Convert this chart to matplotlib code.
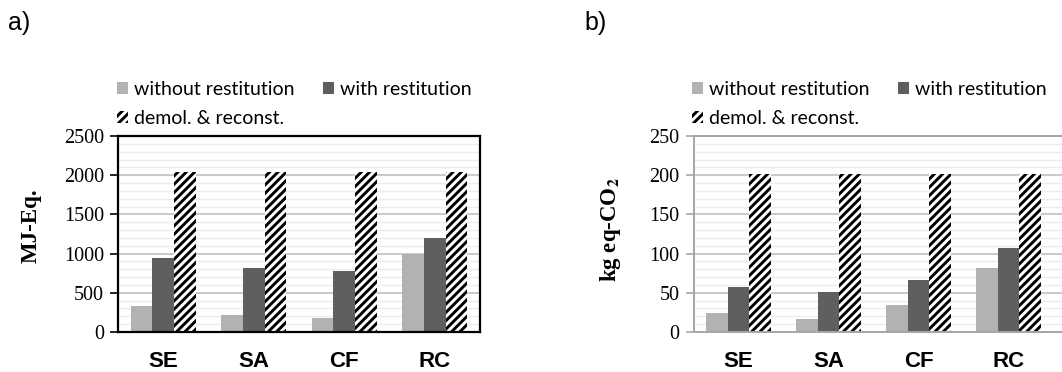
import numpy as np
import matplotlib
matplotlib.use("Agg")
import matplotlib.pyplot as plt
import matplotlib.patches as mpatches
from matplotlib.ticker import MultipleLocator

categories = ["SE", "SA", "CF", "RC"]
series = ["without restitution", "with restitution", "demol. & reconst."]

energy_without = [336, 217, 179, 999]
energy_with = [940, 816, 774, 1199]
energy_demol = [2040, 2040, 2040, 2040]

co2_without = [24, 17, 34, 81]
co2_with = [58, 51, 66, 107]
co2_demol = [202, 202, 202, 202]

light = "#b2b2b2"
dark = "#5f5f5f"

plt.rcParams['hatch.linewidth'] = 2.1
plt.rcParams['mathtext.fontset'] = 'stix'

fig = plt.figure(figsize=(10.62, 3.72), dpi=100)
W, H = 1062.0, 372.0

ax1 = fig.add_axes([118 / W, 40 / H, 362 / W, 196 / H])
ax2 = fig.add_axes([693.5 / W, 40 / H, 378 / W, 196 / H])

bw = 0.24
x = np.arange(len(categories))


def draw(ax, vals, ymax, major, minor, spine_col, ylabel, xr):
    a, b, c = vals
    ax.bar(x - bw, a, bw, color=light, zorder=2)
    ax.bar(x, b, bw, color=dark, zorder=2)
    ax.bar(x + bw, c, bw, color="white", edgecolor="black", linewidth=0,
           hatch="////", zorder=2)
    ax.set_ylim(0, ymax)
    ax.set_xlim(-0.5, xr)
    ax.yaxis.set_major_locator(MultipleLocator(major))
    ax.yaxis.set_minor_locator(MultipleLocator(minor))
    ax.grid(axis="y", which="major", color="#c0c0c0", linewidth=1.2, zorder=0)
    ax.grid(axis="y", which="minor", color="#ececec", linewidth=1.0, zorder=0)
    ax.set_axisbelow(True)
    ax.set_xticks(x)
    ax.set_xticklabels(categories, fontfamily="Liberation Sans",
                       fontweight="bold", fontsize=16)
    ax.tick_params(axis="x", length=0, pad=14)
    ax.tick_params(axis="y", which="major", length=6, width=1.2,
                   color=spine_col, labelsize=14.5, pad=4)
    ax.tick_params(axis="y", which="minor", length=0)
    for lab in ax.get_yticklabels():
        lab.set_fontfamily("Liberation Serif")
    for s in ax.spines.values():
        s.set_color(spine_col)
        s.set_linewidth(1.6 if spine_col == "black" else 1.4)
        s.set_zorder(3)
    ax.set_ylabel(ylabel, fontfamily="Liberation Serif", fontweight="bold",
                  fontsize=16.5)


draw(ax1, (energy_without, energy_with, energy_demol), 2500, 500, 100,
     "black", "MJ-Eq.", 3.5)
draw(ax2, (co2_without, co2_with, co2_demol), 250, 50, 10,
     "#a6a6a6", r"kg eq-CO$_{\mathbf{2}}$", 3.7)
ax2.spines["right"].set_visible(False)
ax1.yaxis.set_label_coords(-0.21, 0.54)
ax2.yaxis.set_label_coords(-0.186, 0.52)

handles = [
    mpatches.Patch(facecolor=light, label=series[0]),
    mpatches.Patch(facecolor="white", edgecolor="black", linewidth=0,
                   hatch="////", label=series[2]),
    mpatches.Patch(facecolor=dark, label=series[1]),
]
for xl in (117 / W, 692 / W):
    fig.legend(handles=handles, ncol=2, loc="upper left",
               bbox_to_anchor=(xl, 1 - 81 / H), frameon=False,
               prop={"family": "Lato", "size": 14},
               handlelength=0.55, handleheight=0.55, handletextpad=0.3,
               columnspacing=1.5, labelspacing=0.6, borderaxespad=0,
               borderpad=0)

fig.text(8 / W, 1 - 23 / H, "a)", fontfamily="Liberation Sans", fontsize=18,
         va="center", ha="left")
fig.text(584 / W, 1 - 23 / H, "b)", fontfamily="Liberation Sans", fontsize=18,
         va="center", ha="left")

fig.savefig("out.png", dpi=100)
